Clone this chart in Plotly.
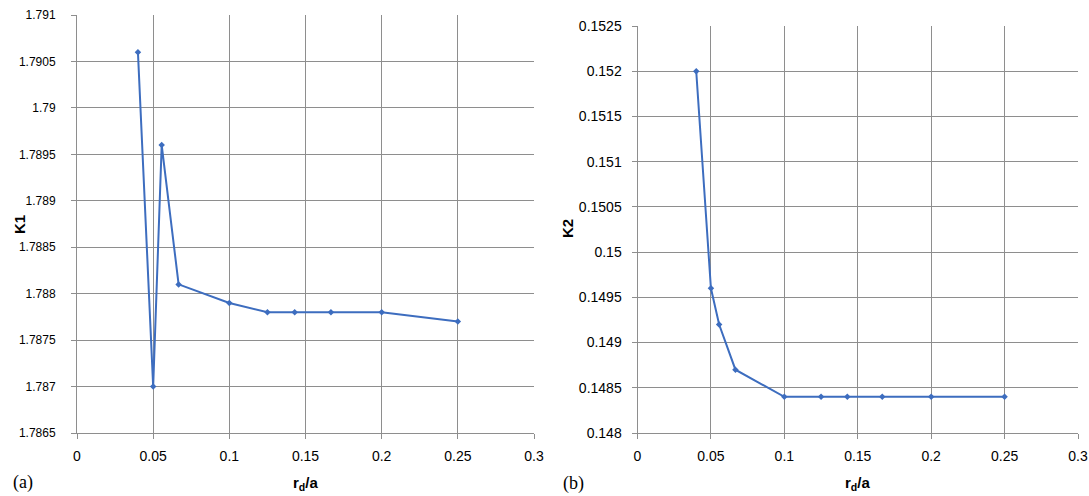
import plotly.graph_objects as go

# ---- data ----
rd_a = [0.04, 0.05, 0.0556, 0.0667, 0.1, 0.125, 0.1429, 0.1667, 0.2, 0.25]
k1 = [1.7906, 1.7870, 1.7896, 1.7881, 1.7879, 1.7878, 1.7878, 1.7878, 1.7878, 1.7877]
k2 = [0.1520, 0.1496, 0.1492, 0.1487, 0.1484, 0.1484, 0.1484, 0.1484, 0.1484, 0.1484]

x_tickvals = [0, 0.05, 0.1, 0.15, 0.2, 0.25, 0.3]
x_ticktext = ["0", "0.05", "0.1", "0.15", "0.2", "0.25", "0.3"]
k1_tickvals = [1.7865, 1.787, 1.7875, 1.788, 1.7885, 1.789, 1.7895, 1.79, 1.7905, 1.791]
k1_ticktext = ["1.7865", "1.787", "1.7875", "1.788", "1.7885", "1.789", "1.7895", "1.79", "1.7905", "1.791"]
k2_tickvals = [0.148, 0.1485, 0.149, 0.1495, 0.15, 0.1505, 0.151, 0.1515, 0.152, 0.1525]
k2_ticktext = ["0.148", "0.1485", "0.149", "0.1495", "0.15", "0.1505", "0.151", "0.1515", "0.152", "0.1525"]

LINE = "#3D6DBF"
GRID = "#8e8e8e"
NARROW = "Liberation Sans Narrow, Arial Narrow, Liberation Sans, sans-serif"
XFONT = dict(family=NARROW, size=14, color="#000000")
Y1FONT = dict(family=NARROW, size=12, color="#000000")
Y2FONT = dict(family=NARROW, size=14, color="#000000")

fig = go.Figure()
fig.add_trace(go.Scatter(x=rd_a, y=k1, mode="lines+markers", xaxis="x", yaxis="y",
                         line=dict(color=LINE, width=2),
                         marker=dict(symbol="diamond", size=5, color=LINE), showlegend=False))
fig.add_trace(go.Scatter(x=rd_a, y=k2, mode="lines+markers", xaxis="x2", yaxis="y2",
                         line=dict(color=LINE, width=2),
                         marker=dict(symbol="diamond", size=5, color=LINE), showlegend=False))

def xax(domain, anchor):
    return dict(domain=domain, anchor=anchor, range=[0, 0.3], tickvals=x_tickvals, ticktext=x_ticktext,
                showgrid=True, gridcolor=GRID, gridwidth=1, showline=True, linecolor=GRID, linewidth=1,
                ticks="outside", ticklen=5, tickcolor=GRID, tickfont=XFONT, zeroline=False,
                ticklabelstandoff=5, automargin=False)

def yax(domain, anchor, rng, tv, tt, font, standoff):
    return dict(domain=domain, anchor=anchor, range=rng, tickvals=tv, ticktext=tt,
                showgrid=True, gridcolor=GRID, gridwidth=1, showline=True, linecolor=GRID, linewidth=1,
                ticks="outside", ticklen=5, tickcolor=GRID, tickfont=font, zeroline=False,
                ticklabelstandoff=standoff, automargin=False)

fig.update_layout(
    width=1089, height=496,
    margin=dict(l=0, r=0, t=0, b=0),
    paper_bgcolor="white", plot_bgcolor="white",
    xaxis=xax([77/1089, 534/1089], "y"),
    yaxis=yax([1 - 433/496, 1 - 15/496], "x", [1.7865, 1.791], k1_tickvals, k1_ticktext, Y1FONT, 13),
    xaxis2=xax([637.5/1089, 1078/1089], "y2"),
    yaxis2=yax([1 - 433/496, 1 - 26/496], "x2", [0.148, 0.1525], k2_tickvals, k2_ticktext, Y2FONT, 7),
)

bold = dict(family="Liberation Sans, Arial, sans-serif", size=15, color="#000000")
serif = dict(family="Liberation Serif, Times New Roman, serif", size=18, color="#000000")
anns = [
    dict(text="<b>K1</b>", x=19, y=225, textangle=-90, font=bold),
    dict(text="<b>K2</b>", x=567, y=229, textangle=-90, font=bold),
    dict(text="<b>r<sub>d</sub>/a</b>", x=305, y=483, font=bold),
    dict(text="<b>r<sub>d</sub>/a</b>", x=857, y=483, font=bold),
    dict(text="(a)", x=23, y=482, font=serif),
    dict(text="(b)", x=573, y=483, font=serif),
]
for a in anns:
    fig.add_annotation(text=a["text"], x=a["x"] / 1089, y=1 - a["y"] / 496, xref="paper", yref="paper",
                       xanchor="center", yanchor="middle", showarrow=False,
                       textangle=a.get("textangle", 0), font=a["font"])

fig.write_html("out.html", config={"displayModeBar": False},
               post_script="document.body.style.margin='0';document.body.style.overflow='hidden';")
